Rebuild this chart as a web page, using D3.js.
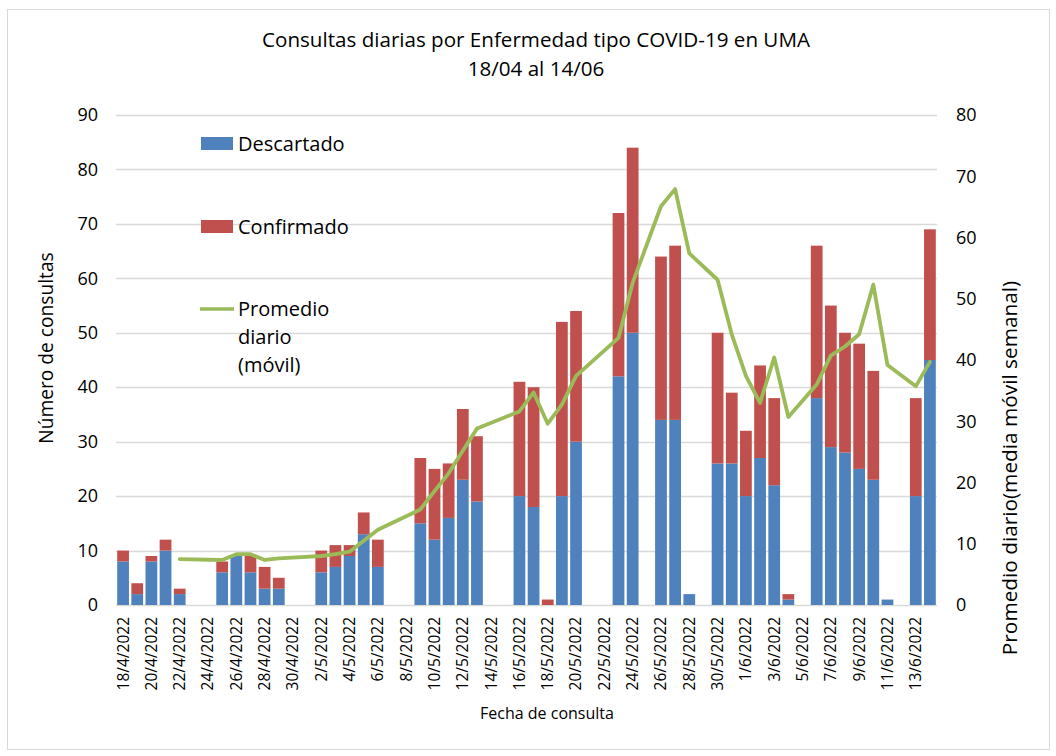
<!DOCTYPE html>
<html lang="es">
<head>
<meta charset="utf-8">
<title>Consultas diarias por Enfermedad tipo COVID-19 en UMA</title>
<script src="https://cdn.jsdelivr.net/npm/d3@7"></script>
<style>
    html, body { margin: 0; padding: 0; background: #fff; }
    #chart { width: 1056px; height: 756px; }
    text { font-family: 'Open Sans', sans-serif; fill: #000; }
</style>
</head>
<body>
<div id="chart"></div>
<script>
const dates = [
    '18/4/2022', '19/4/2022', '20/4/2022', '21/4/2022', '22/4/2022', '23/4/2022', '24/4/2022',
    '25/4/2022', '26/4/2022', '27/4/2022', '28/4/2022', '29/4/2022', '30/4/2022', '1/5/2022',
    '2/5/2022', '3/5/2022', '4/5/2022', '5/5/2022', '6/5/2022', '7/5/2022', '8/5/2022',
    '9/5/2022', '10/5/2022', '11/5/2022', '12/5/2022', '13/5/2022', '14/5/2022', '15/5/2022',
    '16/5/2022', '17/5/2022', '18/5/2022', '19/5/2022', '20/5/2022', '21/5/2022', '22/5/2022',
    '23/5/2022', '24/5/2022', '25/5/2022', '26/5/2022', '27/5/2022', '28/5/2022', '29/5/2022',
    '30/5/2022', '31/5/2022', '1/6/2022', '2/6/2022', '3/6/2022', '4/6/2022', '5/6/2022',
    '6/6/2022', '7/6/2022', '8/6/2022', '9/6/2022', '10/6/2022', '11/6/2022', '12/6/2022',
    '13/6/2022', '14/6/2022'
];

const descartado = [
    8, 2, 8, 10, 2, 0, 0,
    6, 9, 6, 3, 3, 0, 0,
    6, 7, 9, 13, 7, 0, 0,
    15, 12, 16, 23, 19, 0, 0,
    20, 18, 0, 20, 30, 0, 0,
    42, 50, 0, 34, 34, 2, 0,
    26, 26, 20, 27, 22, 1, 0,
    38, 29, 28, 25, 23, 1, 0,
    20, 45
];

const confirmado = [
    2, 2, 1, 2, 1, 0, 0,
    2, 0, 3, 4, 2, 0, 0,
    4, 4, 2, 4, 5, 0, 0,
    12, 13, 10, 13, 12, 0, 0,
    21, 22, 1, 32, 24, 0, 0,
    30, 34, 0, 30, 32, 0, 0,
    24, 13, 12, 17, 16, 1, 0,
    28, 26, 22, 23, 20, 0, 0,
    18, 24
];

// media movil semanal (eje derecho)
const promedio = [
    null, null, null, null, 7.5, null, null,
    7.35, 8.3, 8.3, 7.35, 7.6, null, null,
    8.0, 8.3, 8.7, 10.5, 12.3, null, null,
    15.6, 18.6, 21.5, 25.2, 28.8, null, null,
    31.6, 34.7, 29.6, 32.7, 37.4, null, null,
    43.6, 52.6, null, 65.1, 67.9, 57.4, null,
    53.1, 44.2, 37.4, 33.0, 40.4, 30.7, null,
    36.0, 40.7, 42.2, 44.2, 52.3, 39.2, null,
    35.7, 39.7
];

const leftTicks = [0, 10, 20, 30, 40, 50, 60, 70, 80, 90];
const rightTicks = [0, 10, 20, 30, 40, 50, 60, 70, 80];
const tickDates = dates.filter((d, i) => i % 2 === 0);

const titleLines = ['Consultas diarias por Enfermedad tipo COVID-19 en UMA', '18/04 al 14/06'];
const legendLabels = ['Descartado', 'Confirmado', ['Promedio', 'diario', '(móvil)']];

const colors = { desc: '#4F81BD', conf: '#C0504D', prom: '#9BBB59', grid: '#d9d9d9' };

const width = 1056;
const height = 756;
const plot = { left: 116, right: 937, top: 115, bottom: 605 };

const svg = d3.select('#chart')
    .append('svg')
    .attr('width', width)
    .attr('height', height)
    .attr('viewBox', `0 0 ${width} ${height}`);

svg.append('rect')
    .attr('x', 7.5)
    .attr('y', 9.5)
    .attr('width', 1042)
    .attr('height', 740)
    .attr('fill', '#fff')
    .attr('stroke', colors.grid)
    .attr('stroke-width', 1);

const x = d3.scaleBand()
    .domain(dates)
    .range([plot.left, plot.right])
    .paddingInner(0.17)
    .paddingOuter(0.085);

const yLeft = d3.scaleLinear().domain([0, 90]).range([plot.bottom, plot.top]);
const yRight = d3.scaleLinear().domain([0, 80]).range([plot.bottom, plot.top]);

// gridlines
svg.append('g')
    .selectAll('line')
    .data(leftTicks)
    .join('line')
    .attr('x1', plot.left)
    .attr('x2', plot.right)
    .attr('y1', d => Math.round(yLeft(d)) + 0.5)
    .attr('y2', d => Math.round(yLeft(d)) + 0.5)
    .attr('stroke', colors.grid)
    .attr('stroke-width', 1.3);

// left axis
const leftAxis = svg.append('g')
    .attr('transform', `translate(${plot.left - 18},0)`)
    .call(d3.axisLeft(yLeft).tickValues(leftTicks).tickSize(0).tickPadding(0));
leftAxis.select('.domain').remove();
leftAxis.selectAll('text')
    .attr('font-size', 18)
    .attr('font-family', "'Open Sans', sans-serif")
    .attr('fill', '#000');

// right axis
const rightAxis = svg.append('g')
    .attr('transform', `translate(${plot.right + 19},0)`)
    .call(d3.axisRight(yRight).tickValues(rightTicks).tickSize(0).tickPadding(0));
rightAxis.select('.domain').remove();
rightAxis.selectAll('text')
    .attr('font-size', 18)
    .attr('font-family', "'Open Sans', sans-serif")
    .attr('fill', '#000');

// x axis
const xAxis = svg.append('g')
    .attr('transform', `translate(0,${plot.bottom})`)
    .call(d3.axisBottom(x).tickValues(tickDates).tickSize(0).tickPadding(0));
xAxis.select('.domain').remove();
xAxis.selectAll('text')
    .attr('font-size', 15.5)
    .attr('font-family', "'Open Sans', sans-serif")
    .attr('fill', '#000')
    .attr('text-anchor', 'end')
    .attr('dy', '0.35em')
    .attr('transform', 'translate(0,12) rotate(-90)');

// stacked bars
const stack = d3.stack().keys(['desc', 'conf']);
const rows = dates.map((d, i) => ({ date: d, desc: descartado[i], conf: confirmado[i] }));
const series = stack(rows);

svg.append('g')
    .selectAll('g')
    .data(series)
    .join('g')
    .attr('fill', s => colors[s.key])
    .selectAll('rect')
    .data(s => s.filter(d => d[1] > d[0]))
    .join('rect')
    .attr('x', d => x(d.data.date))
    .attr('width', x.bandwidth())
    .attr('y', d => yLeft(d[1]))
    .attr('height', d => yLeft(d[0]) - yLeft(d[1]));

// moving average line, gaps are bridged
const points = dates
    .map((d, i) => ({ date: d, v: promedio[i] }))
    .filter(p => p.v !== null);

const line = d3.line()
    .x(p => x(p.date) + x.bandwidth() / 2)
    .y(p => yRight(p.v));

svg.append('path')
    .datum(points)
    .attr('d', line)
    .attr('fill', 'none')
    .attr('stroke', colors.prom)
    .attr('stroke-width', 3.8)
    .attr('stroke-linejoin', 'round')
    .attr('stroke-linecap', 'round');

// title
svg.append('g')
    .selectAll('text')
    .data(titleLines)
    .join('text')
    .attr('x', 536)
    .attr('y', (d, i) => 47 + i * 29)
    .attr('text-anchor', 'middle')
    .attr('font-size', 20.6)
    .text(d => d);

// axis titles
svg.append('text')
    .attr('transform', 'translate(53,348) rotate(-90)')
    .attr('text-anchor', 'middle')
    .attr('font-size', 19.2)
    .text('Número de consultas');

svg.append('text')
    .attr('transform', 'translate(1017,468) rotate(-90)')
    .attr('text-anchor', 'middle')
    .attr('font-size', 20.8)
    .text('Promedio diario(media móvil semanal)');

svg.append('text')
    .attr('x', 547)
    .attr('y', 719)
    .attr('text-anchor', 'middle')
    .attr('font-size', 16)
    .text('Fecha de consulta');

// legend
const legend = svg.append('g');

legend.append('rect')
    .attr('x', 201).attr('y', 137).attr('width', 32).attr('height', 13)
    .attr('fill', colors.desc);
legend.append('text')
    .attr('x', 238).attr('y', 151).attr('font-size', 20)
    .text(legendLabels[0]);

legend.append('rect')
    .attr('x', 201).attr('y', 220).attr('width', 32).attr('height', 13)
    .attr('fill', colors.conf);
legend.append('text')
    .attr('x', 238).attr('y', 234).attr('font-size', 20)
    .text(legendLabels[1]);

legend.append('line')
    .attr('x1', 200).attr('x2', 234).attr('y1', 309).attr('y2', 309)
    .attr('stroke', colors.prom).attr('stroke-width', 3.5);
legend.append('g')
    .selectAll('text')
    .data(legendLabels[2])
    .join('text')
    .attr('x', 238)
    .attr('y', (d, i) => 316 + i * 28)
    .attr('font-size', 20)
    .text(d => d);
</script>
</body>
</html>
